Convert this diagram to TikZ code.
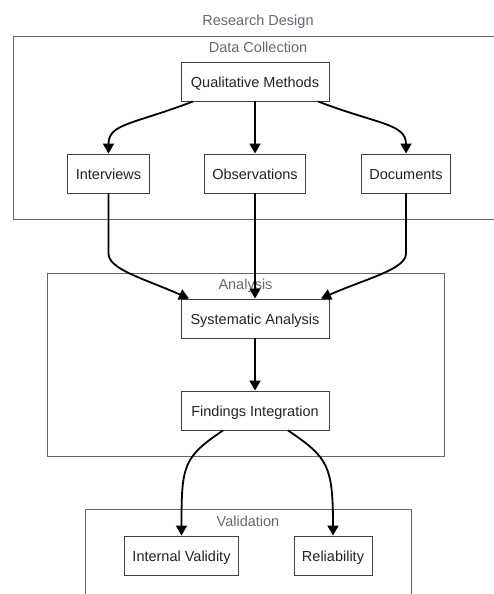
\documentclass[tikz,border=0pt]{standalone}
\usepackage{fontspec}
\setmainfont{Liberation Sans}
\usetikzlibrary{arrows.meta}

\definecolor{clustergray}{RGB}{100,104,114}
\definecolor{boxtext}{RGB}{34,34,44}

\begin{document}
\begin{tikzpicture}[x=1pt,y=-1pt,
  box/.style={draw=black!75,line width=0.9pt,fill=white,text=boxtext,
    inner xsep=8pt,minimum height=39pt,text height=12pt,text depth=0pt,
    font=\fontsize{14.5}{17}\selectfont},
  wide/.style={box,minimum width=148pt},
  cluster/.style={draw=black!60,line width=0.9pt},
  clusterlabel/.style={text=clustergray,text height=12pt,text depth=0pt,
    font=\fontsize{14.5}{17}\selectfont},
  flow/.style={line width=1.8pt,-{Triangle[length=10pt,width=11pt]}}]
  \useasboundingbox (0,0) rectangle (493,594);

  % groups
  \node[clusterlabel] (design) at (258,19.7) {Research Design};
  \draw[cluster] (13,36) rectangle (503,219);
  \node[clusterlabel] (collect) at (258,46.7) {Data Collection};
  \draw[cluster] (47,273) rectangle (444,456);
  \node[clusterlabel] (analysis) at (245.5,283.5) {Analysis};
  \draw[cluster] (85,509) rectangle (411,600);
  \node[clusterlabel] (valid) at (248,520.2) {Validation};

  % steps
  \node[wide] (qm) at (255,81.5) {Qualitative Methods};
  \node[box] (iv) at (108.5,173.5) {Interviews};
  \node[box] (obs) at (255,173.5) {Observations};
  \node[box] (doc) at (406,173.5) {Documents};
  \node[wide] (sa) at (255,318.5) {Systematic Analysis};
  \node[wide] (fi) at (255,410.5) {Findings Integration};
  \node[box] (intv) at (181.5,555.5) {Internal Validity};
  \node[box] (rel) at (333,555.5) {Reliability};

  \draw[flow] ([xshift=-62pt]qm.south) .. controls +(-60,23) and +(0,-30) .. (iv.north);
  \draw[flow] (qm) -- (obs);
  \draw[flow] ([xshift=63pt]qm.south) .. controls +(60,23) and +(0,-30) .. (doc.north);

  \draw[flow] (iv.south) -- ++(0,60) .. controls +(0,16) and +(-45,-20) .. ([xshift=-66pt]sa.north);
  \draw[flow] (obs) -- (sa);
  \draw[flow] (doc.south) -- ++(0,60) .. controls +(0,16) and +(45,-20) .. ([xshift=66pt]sa.north);

  \draw[flow] (sa) -- (fi);
  \draw[flow] ([xshift=-32pt]fi.south) .. controls +(-40,27) and +(0,-70) .. (intv.north);
  \draw[flow] ([xshift=33pt]fi.south) .. controls +(40,27) and +(0,-70) .. (rel.north);
\end{tikzpicture}
\end{document}
